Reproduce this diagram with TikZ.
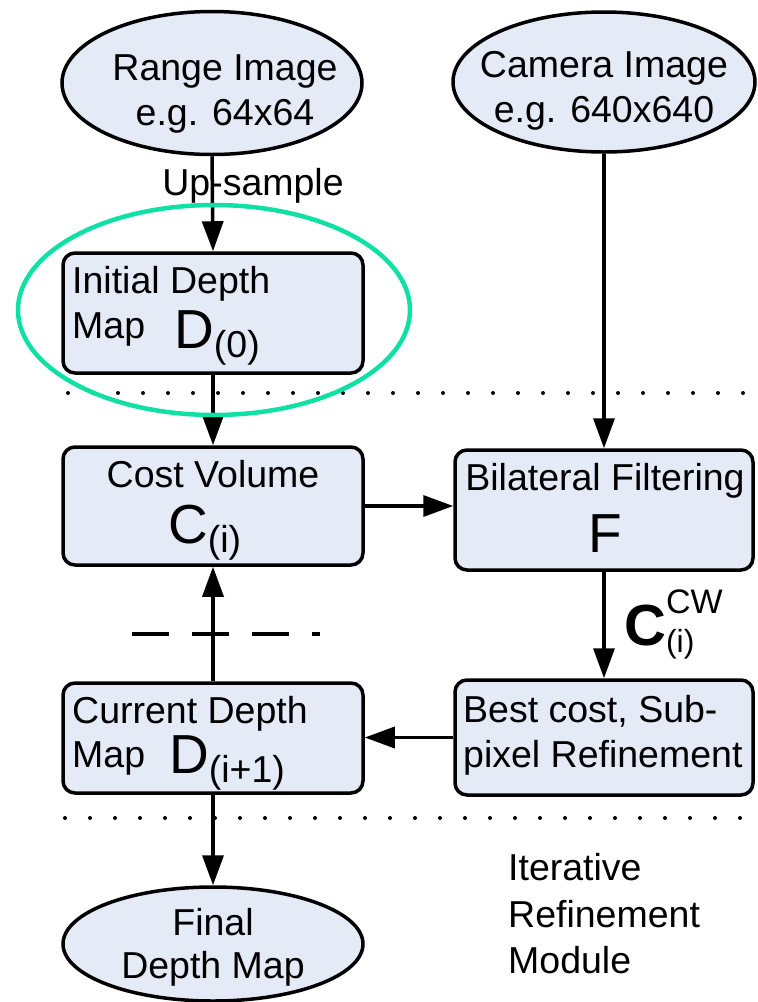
\documentclass[tikz,border=0pt]{standalone}
\usepackage{fontspec}
\setmainfont{Liberation Sans}
\usetikzlibrary{arrows.meta,shapes.geometric}
\definecolor{boxfill}{RGB}{228,234,246}
\definecolor{hlteal}{RGB}{16,224,164}
\newcommand{\bigf}{\fontsize{55}{60}\selectfont}
\newcommand{\subf}[1]{\raisebox{-9pt}{#1}}
\begin{document}
\begin{tikzpicture}[x=1pt,y=-1pt,
  box/.style={draw, line width=3.5pt, fill=boxfill, rounded corners=12pt, inner sep=0pt, minimum width=300pt},
  oval/.style={draw, ellipse, line width=3.5pt, fill=boxfill, inner sep=0pt},
  txt/.style={font=\fontsize{37.5}{45}\selectfont, inner sep=0pt},
  arr/.style={line width=3.5pt, -{Triangle[length=30pt,width=21pt]}},
  dots/.style={line width=4pt, line cap=round, dash pattern=on 0pt off 25pt},
  dashes/.style={line width=3.5pt, dash pattern=on 37pt off 23pt}]
\useasboundingbox (0,0) rectangle (758,1002);

% shapes
\node[oval, minimum width=300pt, minimum height=143pt] (range) at (212,83) {};
\node[oval, minimum width=302pt, minimum height=140pt] (camera) at (604,82) {};
\node[box, minimum height=120pt] (init) at (213,313) {};
\node[box, minimum height=118pt] (cost) at (213,506) {};
\node[box, minimum width=298pt, minimum height=120pt] (bil) at (604,510) {};
\node[box, minimum width=298pt, minimum height=115pt] (best) at (604,737.5) {};
\node[box, minimum height=110pt] (cur) at (213,738) {};
\node[oval, minimum width=300pt, minimum height=114pt] (final) at (213,944) {};

% texts
\node[txt, anchor=base] (t1) at (225,80) {Range Image};
\node[txt, anchor=base] (t2) at (225,125) {e.g. 64x64};
\node[txt, anchor=base] (t3) at (604,77) {Camera Image};
\node[txt, anchor=base] (t4) at (604,122) {e.g. 640x640};
\node[txt, anchor=base] (up) at (253,195) {Up-sample};
\node[txt, anchor=base west] (t5) at (72,293) {Initial Depth};
\node[txt, anchor=base west] (t6) at (72,338) {Map};
\node[txt, anchor=base west] (t7) at (174,348) {\bigf D\fontsize{37.5}{45}\selectfont\subf{(0)}};
\node[txt, anchor=base] (t8) at (213,487) {Cost Volume};
\node[txt, anchor=base west] (t9) at (168,543) {\bigf C\fontsize{37.5}{45}\selectfont\subf{(i)}};
\node[txt, anchor=base] (t10) at (605,490) {Bilateral Filtering};
\node[txt, anchor=base] (t11) at (605,552) {\bigf F};
\node[txt, anchor=base west] (t12) at (463,722) {Best cost, Sub-};
\node[txt, anchor=base west] (t13) at (463,767) {pixel Refinement};
\node[txt, anchor=base west] (t14) at (72,723) {Current Depth};
\node[txt, anchor=base west] (t15) at (72,767) {Map};
\node[txt, anchor=base west] (t16) at (169,773) {\bigf D\fontsize{37.5}{45}\selectfont\subf{(i+1)}};
\node[txt, anchor=base] (t17) at (213,935) {Final};
\node[txt, anchor=base] (t18) at (213,978) {Depth Map};
\node[txt, anchor=base west] (cw) at (624,645) {\fontsize{58}{60}\selectfont\bfseries C\fontsize{34}{36}\mdseries\selectfont\rlap{\raisebox{32pt}{CW}}\fontsize{32}{36}\selectfont\raisebox{-7pt}{(i)}};
\node[txt, anchor=base west] (t19) at (508,880) {Iterative};
\node[txt, anchor=base west] (t20) at (508,927) {Refinement};
\node[txt, anchor=base west] (t21) at (508,973) {Module};

% separators
\coordinate (d1a) at (68,393);
\coordinate (d1b) at (752,393);
\coordinate (d2a) at (65,818);
\coordinate (d2b) at (752,818);
\coordinate (dsa) at (132,634);
\coordinate (dsb) at (320,634);
\draw[dots] (d1a) -- (d1b);
\draw[dots] (d2a) -- (d2b);
\draw[dashes] (dsa) -- (dsb);

% connectors
\draw[arr] (range.south) -- (init.north);
\draw[arr] (init.south) -- (cost.north);
\draw[arr] (camera.south) -- (camera.south |- bil.north);
\draw[arr] (cost.east) -- (cost.east -| bil.west);
\draw[arr] (bil.south) -- (best.north);
\draw[arr] (best.west) -- (best.west -| cur.east);
\draw[arr] (cur.north) -- (cost.south);
\draw[arr] (cur.south) -- (final.north);

% highlight
\node[draw=hlteal, line width=4.5pt, ellipse, minimum width=392pt, minimum height=210pt, inner sep=0pt] (hl) at (214,310) {};
\end{tikzpicture}
\end{document}
